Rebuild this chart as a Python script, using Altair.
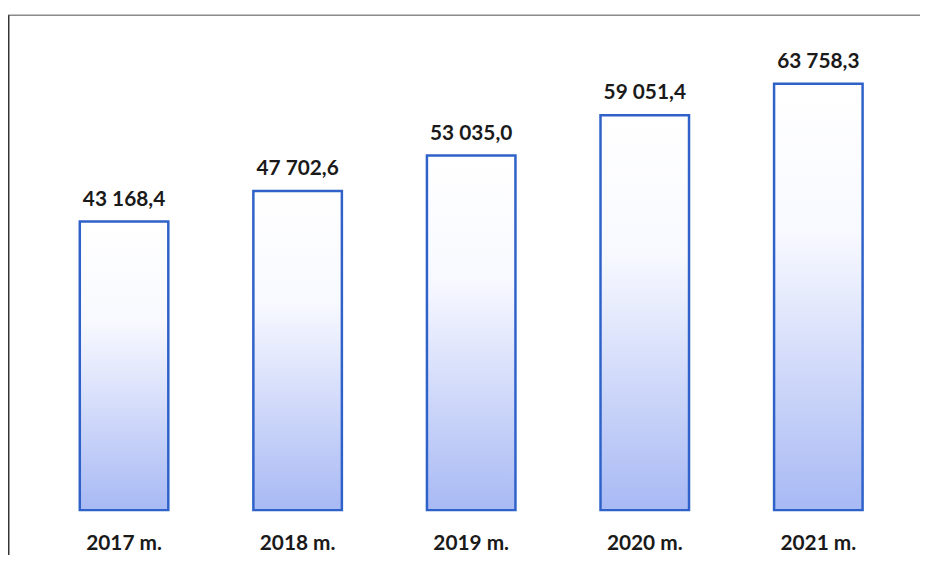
import altair as alt
import pandas as pd

years = ["2017 m.", "2018 m.", "2019 m.", "2020 m.", "2021 m."]
values = [43168.4, 47702.6, 53035.0, 59051.4, 63758.3]
labels = ["43 168,4", "47 702,6", "53 035,0", "59 051,4", "63 758,3"]

df = pd.DataFrame({"year": years, "value": values, "label": labels})

x = alt.X("year:N", sort=years, title=None,
          scale=alt.Scale(paddingInner=0.49, paddingOuter=0.245),
          axis=alt.Axis(labelAngle=0, ticks=False, domain=False, labelPadding=23,
                        labelFont="Lato", labelFontWeight="bold", labelFontSize=21,
                        labelColor="#1a1a1a"))
y = alt.Y("value:Q", title=None, axis=None, scale=alt.Scale(domain=[0, 70000], nice=False))

grad = alt.Gradient(
    gradient="linear",
    stops=[alt.GradientStop(color="#FFFFFF", offset=0),
           alt.GradientStop(color="#F8F9FF", offset=0.35),
           alt.GradientStop(color="#A8B9F4", offset=1)],
    x1=0, x2=0, y1=0, y2=1,
)

base = alt.Chart(df)
bars = base.mark_bar(color=grad, stroke="#2F62C9", strokeWidth=2.5).encode(x=x, y=y)
text = base.mark_text(dy=-16, baseline="alphabetic", font="Lato", fontWeight="bold",
                      fontSize=21, color="#1a1a1a").encode(x=x, y=y, text="label:N")

frame_df = pd.DataFrame({"k": [0]})
top_line = alt.Chart(frame_df).mark_rule(color="#8a8a8a", strokeWidth=1.5).encode(
    x=alt.value(-29.5), x2=alt.value(900), y=alt.value(-27))
left_line = alt.Chart(frame_df).mark_rule(color="#333333", strokeWidth=2).encode(
    x=alt.value(-29), y=alt.value(-27), y2=alt.value(520))

chart = alt.layer(bars, text, top_line, left_line).properties(
    width=875, height=472,
    autosize=alt.AutoSizeParams(type="none"),
    padding={"left": 29.5, "top": 32, "right": 15, "bottom": 43},
).configure_view(stroke=None)

chart.save("out.html", embed_options={"renderer": "svg", "actions": False})
